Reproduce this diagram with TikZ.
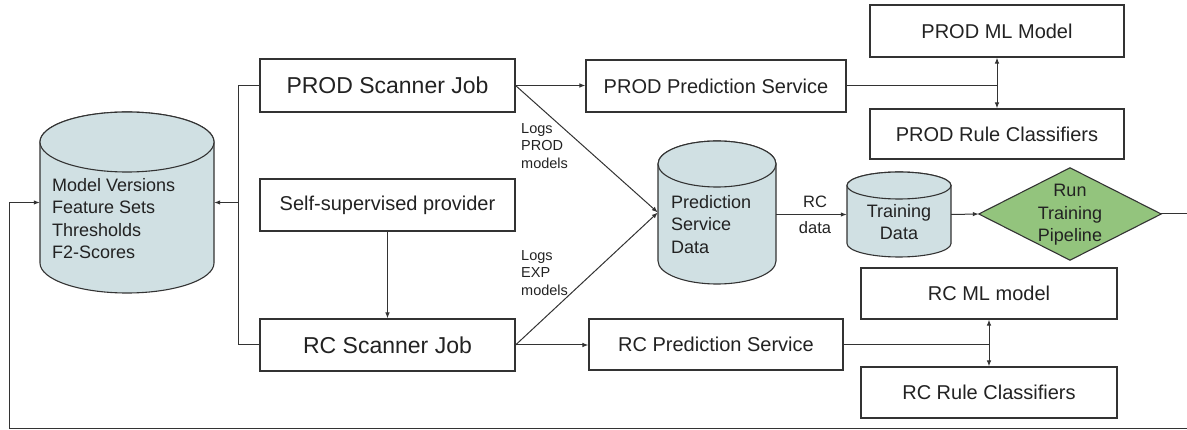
\documentclass[tikz,border=0pt]{standalone}
\usepackage{fontspec}
\setmainfont{Liberation Sans}
\usetikzlibrary{arrows.meta,calc}
\definecolor{cylfill}{HTML}{D0E0E3}
\definecolor{grnfill}{HTML}{93C47D}
\definecolor{linec}{HTML}{333333}
\definecolor{txtc}{HTML}{222222}
\begin{document}
\begin{tikzpicture}[x=1pt,y=-1pt,
  box/.style={draw=linec,line width=1.1pt,rectangle,inner sep=0pt,text=txtc,
    font=\fontsize{20}{24}\selectfont},
  bigbox/.style={box,font=\fontsize{23}{27}\selectfont},
  conn/.style={draw=linec,line width=1pt},
  arr/.style={conn,-{Latex[length=6pt,width=4.5pt]}},
  darr/.style={conn,{Latex[length=6pt,width=4.5pt]}-{Latex[length=6pt,width=4.5pt]}},
  anchorbox/.style={rectangle,inner sep=0pt},
  cyl/.style={fill=cylfill,draw=linec,line width=1.1pt},
  lbl/.style={text=txtc,inner sep=0pt,align=left,font=\fontsize{14.5}{17.5}\selectfont},
]
\useasboundingbox (0,0) rectangle (1187,430);
\clip (0,0) rectangle (1187,430);

% boxes
\node[bigbox,minimum width=255pt,minimum height=53pt] (prod) at (387.5,85.5) {PROD Scanner Job};
\node[box,minimum width=255pt,minimum height=52pt] (ssp) at (387.5,205) {Self-supervised provider};
\node[bigbox,minimum width=255pt,minimum height=52pt] (rc) at (387.5,345) {RC Scanner Job};
\node[box,minimum width=260pt,minimum height=52pt] (pps) at (716,86) {PROD Prediction Service};
\node[box,minimum width=254pt,minimum height=51pt] (rps) at (716,344.5) {RC Prediction Service};
\node[box,minimum width=254pt,minimum height=52pt] (pml) at (997,31) {PROD ML Model};
\node[box,minimum width=254pt,minimum height=50pt] (prc) at (997,134) {PROD Rule Classifiers};
\node[box,minimum width=256pt,minimum height=51pt] (rml) at (989,293.5) {RC ML model};
\node[box,minimum width=256pt,minimum height=51pt] (rrc) at (989,392.5) {RC Rule Classifiers};

% cylinder: Model Versions (40-214, 112-293, ry 30)
\node[anchorbox,minimum width=174pt,minimum height=181pt] (mv) at (127,202.5) {};
\filldraw[cyl] (40,142) -- (40,263) arc[start angle=180,end angle=0,x radius=87,y radius=30]
  -- (214,142) arc[start angle=0,end angle=-180,x radius=87,y radius=30] -- cycle;
\draw[cyl] (127,142) ellipse[x radius=87,y radius=30];
\node[anchor=west,inner sep=0pt,align=left,text=txtc,font=\fontsize{18}{22.3}\selectfont] (mvtext) at (52,218.5)
  {Model Versions\\Feature Sets\\Thresholds\\F2-Scores};

% cylinder: Prediction Service Data (658-776, 141-284, ry 23)
\node[anchorbox,minimum width=118pt,minimum height=143pt] (psd) at (717,212.5) {};
\filldraw[cyl] (658,164) -- (658,261) arc[start angle=180,end angle=0,x radius=59,y radius=23]
  -- (776,164) arc[start angle=0,end angle=-180,x radius=59,y radius=23] -- cycle;
\draw[cyl] (717,164) ellipse[x radius=59,y radius=23];
\node[anchor=west,inner sep=0pt,align=left,text=txtc,font=\fontsize{18}{22.5}\selectfont] (psdtext) at (671,224.5)
  {Prediction\\Service\\Data};

% cylinder: Training Data (847-951, 172-257, ry 13.5)
\node[anchorbox,minimum width=104pt,minimum height=85pt] (td) at (899,214.5) {};
\filldraw[cyl] (847,185.5) -- (847,243.5) arc[start angle=180,end angle=0,x radius=52,y radius=13.5]
  -- (951,185.5) arc[start angle=0,end angle=-180,x radius=52,y radius=13.5] -- cycle;
\draw[cyl] (899,185.5) ellipse[x radius=52,y radius=13.5];
\node[inner sep=0pt,align=center,text=txtc,font=\fontsize{18}{21.5}\selectfont] (tdtext) at (899,222)
  {Training\\Data};

% diamond
\node[anchorbox,minimum width=182pt,minimum height=92pt] (run) at (1070,214) {};
\filldraw[fill=grnfill,draw=linec,line width=1.1pt] (run.west) -- (run.north) -- (run.east) -- (run.south) -- cycle;
\node[inner sep=0pt,align=center,text=txtc,font=\fontsize{18}{22.5}\selectfont] (runtext) at (1070,215)
  {Run\\Training\\Pipeline};

% connectors left
\coordinate (lj) at (238,203);
\draw[conn] (prod.west) -- (prod.west -| lj) -- (rc.west -| lj) -- (rc.west);
\draw[arr] (lj |- mv.east) -- (mv.east);
\draw[arr] (ssp.south) -- (rc.north);

% scanner jobs to services
\draw[arr] (prod.east) -- (pps.west |- prod.east);
\draw[arr] (rc.east) -- (rps.west |- rc.east);
\draw[arr] (prod.east) -- (psd.west);
\draw[arr] (rc.east) -- (psd.west);
\node[lbl,anchor=west] (logsprod) at (521,146) {Logs\\PROD\\models};
\node[lbl,anchor=west] (logsexp) at (521,273) {Logs\\EXP\\models};

% services to models
\draw[conn] (pps.east) -- (pps.east -| pml.south);
\draw[darr] (pml.south) -- (prc.north);
\draw[conn] (rps.east) -- (rps.east -| rml.south);
\draw[darr] (rml.south) -- (rrc.north);

% data flow
\draw[arr] (psd.east |- td.west) -- (td.west);
\node[inner sep=0pt,align=center,text=txtc,font=\fontsize{16.5}{26}\selectfont] (rcdata) at (815,215) {RC\\data};
\draw[arr] (td.east) -- (run.west);

% feedback loop
\coordinate (fbr) at (1195,214);
\coordinate (fbrb) at (1195,429);
\coordinate (fbl) at (9,429);
\draw[conn] (run.east) -- (fbr) -- (fbrb) -- (fbl) -- (fbl |- mv.west);
\draw[arr] (fbl |- mv.west) -- (mv.west);
\end{tikzpicture}
\end{document}
